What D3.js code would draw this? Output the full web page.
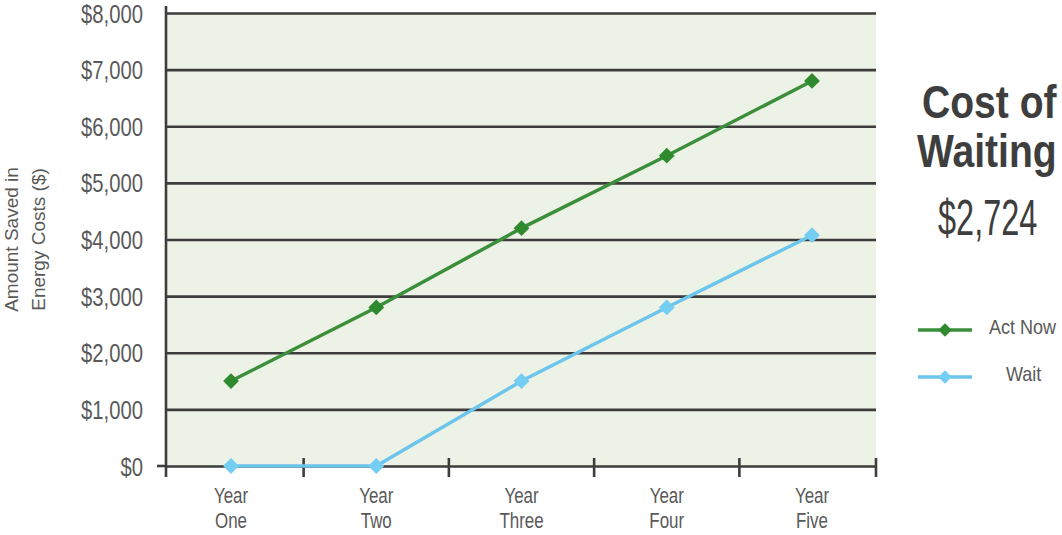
<!DOCTYPE html>
<html>
<head>
<meta charset="utf-8">
<script src="https://cdn.jsdelivr.net/npm/d3@7"></script>
<style>
	body { margin: 0; background: #ffffff; }
	svg text { font-family: "Liberation Sans", Arial, sans-serif; }
</style>
</head>
<body>
<div id="chart"></div>
<script>
var years = ["Year One", "Year Two", "Year Three", "Year Four", "Year Five"];
var actNow = [1500, 2800, 4200, 5480, 6800];
var wait = [0, 0, 1500, 2800, 4076];
var yTicks = [0, 1000, 2000, 3000, 4000, 5000, 6000, 7000, 8000];
var seriesNames = ["Act Now", "Wait"];
var costOfWaiting = 2724;

var width = 1062,
	height = 535,
	plot = { left: 166, right: 876, top: 13, bottom: 466 };

var colors = {
	actNow: "#3b8f3b",
	actNowMark: "#2f8a2f",
	wait: "#6cc5ec",
	waitMark: "#74cdf2",
	grid: "#3d3d3d",
	text: "#595959",
	title: "#3e3e3e"
};

var svg = d3.select("#chart")
	.append("svg")
	.attr("width", width)
	.attr("height", height);

var x = d3.scalePoint().domain(years).range([plot.left + 65, plot.right - 64]);
var y = d3.scaleLinear().domain([0, 8000]).range([plot.bottom, plot.top]);
var money = d3.format("$,");

// text squeezed horizontally, the reference uses a condensed face
function narrowText(parent, px, py, str, size, k) {
	var g = parent.append("g").attr("transform", "translate(" + px + "," + py + ")");
	return g.append("text")
		.attr("transform", "scale(" + k + ",1)")
		.attr("font-size", size)
		.text(str);
}

// plot background
svg.append("rect")
	.attr("x", plot.left)
	.attr("y", y(8000))
	.attr("width", plot.right - plot.left)
	.attr("height", y(0) - y(8000))
	.attr("fill", "#edf2e6");

// horizontal gridlines + y labels
var yk = 0.81;
var yAxis = d3.axisLeft(y)
	.tickValues(yTicks)
	.tickSize(-(plot.right - plot.left))
	.tickFormat(money);

var yg = svg.append("g")
	.attr("transform", "translate(" + plot.left + ",0)")
	.call(yAxis);
yg.select(".domain").remove();
yg.selectAll(".tick line")
	.attr("stroke", colors.grid)
	.attr("stroke-width", 2.6);
yg.selectAll(".tick text")
	.attr("x", -23 / yk)
	.attr("dy", "0.36em")
	.attr("transform", "scale(" + yk + ",1)")
	.attr("fill", colors.text)
	.attr("font-size", 25);

// small tick left of $0
svg.append("line")
	.attr("x1", plot.left - 9).attr("x2", plot.left)
	.attr("y1", y(0)).attr("y2", y(0))
	.attr("stroke", colors.grid).attr("stroke-width", 2.6);

// vertical axis line
svg.append("line")
	.attr("x1", plot.left).attr("x2", plot.left)
	.attr("y1", y(8000) - 7).attr("y2", y(0) + 11)
	.attr("stroke", colors.grid).attr("stroke-width", 2.6);

// x tick marks between categories and at the right end
var edges = years.map(function (d, i) {
	return i < years.length - 1 ? (x(d) + x(years[i + 1])) / 2 : plot.right;
});
svg.append("g").selectAll("line")
	.data(edges)
	.enter().append("line")
	.attr("x1", function (d) { return d; })
	.attr("x2", function (d) { return d; })
	.attr("y1", y(0) - 8)
	.attr("y2", y(0) + 11)
	.attr("stroke", colors.grid)
	.attr("stroke-width", 2.6);

// x labels (two lines)
years.forEach(function (d) {
	var parts = d.split(" ");
	var t = narrowText(svg, x(d), y(0) + 37, null, 22, 0.77)
		.attr("text-anchor", "middle")
		.attr("fill", colors.text);
	t.append("tspan").attr("x", 0).text(parts[0]);
	t.append("tspan").attr("x", 0).attr("dy", 25).text(parts[1]);
});

// y axis title
var yTitle = svg.append("text")
	.attr("transform", "translate(18," + ((plot.top + plot.bottom) / 2) + ") rotate(-90)")
	.attr("text-anchor", "middle")
	.attr("fill", colors.text)
	.attr("font-size", 19);
yTitle.append("tspan").attr("x", 0).text("Amount Saved in");
yTitle.append("tspan").attr("x", 0).attr("dy", 27).text("Energy Costs ($)");

// lines and markers
var line = d3.line()
	.x(function (d, i) { return x(years[i]); })
	.y(function (d) { return y(d); });

var diamond = d3.symbol().type(d3.symbolSquare).size(125);

function drawSeries(values, color, markColor) {
	svg.append("path")
		.datum(values)
		.attr("d", line)
		.attr("fill", "none")
		.attr("stroke", color)
		.attr("stroke-width", 3.5);

	svg.append("g").selectAll("path")
		.data(values)
		.enter().append("path")
		.attr("d", diamond)
		.attr("transform", function (d, i) {
			return "translate(" + x(years[i]) + "," + y(d) + ") rotate(45)";
		})
		.attr("fill", markColor);
}

drawSeries(wait, colors.wait, colors.waitMark);
drawSeries(actNow, colors.actNow, colors.actNowMark);

// side title
narrowText(svg, 922, 118, "Cost of", 46, 0.85)
	.attr("fill", colors.title)
	.attr("font-weight", "bold");
narrowText(svg, 917, 167, "Waiting", 46, 0.85)
	.attr("fill", colors.title)
	.attr("font-weight", "bold");
narrowText(svg, 938, 235, money(costOfWaiting), 50, 0.65)
	.attr("fill", colors.title);

// legend
var legendColors = [[colors.actNow, colors.actNowMark], [colors.wait, colors.waitMark]];
var legendTextX = [71, 88];
var legend = svg.append("g").selectAll("g")
	.data(seriesNames)
	.enter().append("g")
	.attr("transform", function (d, i) { return "translate(918," + (330 + i * 47) + ")"; });
legend.append("line")
	.attr("x1", 0).attr("x2", 54)
	.attr("stroke", function (d, i) { return legendColors[i][0]; })
	.attr("stroke-width", 3.5);
legend.append("path")
	.attr("d", d3.symbol().type(d3.symbolSquare).size(90))
	.attr("transform", "translate(27,0) rotate(45)")
	.attr("fill", function (d, i) { return legendColors[i][1]; });
legend.each(function (d, i) {
	narrowText(d3.select(this), legendTextX[i], 4, d, 20, 0.9)
		.attr("fill", colors.text);
});
</script>
</body>
</html>
